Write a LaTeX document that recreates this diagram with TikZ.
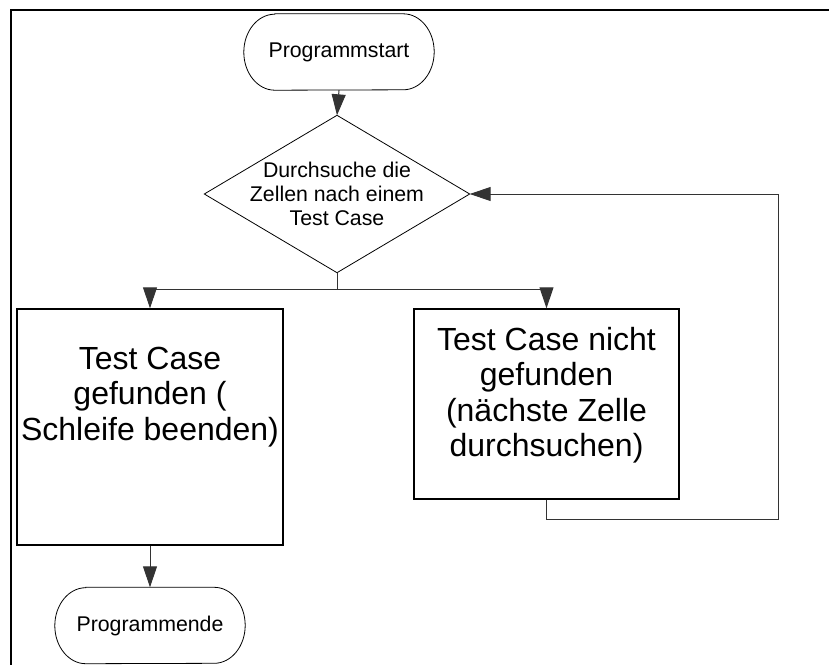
\documentclass[tikz,border=0pt]{standalone}
\usepackage{fontspec}
\setmainfont{Liberation Sans}
\usetikzlibrary{arrows.meta}

% terminator outline drawn round an (invisible) node: flat top and bottom,
% elliptic ends
\newcommand\termoutline[1]{%
  \draw[termline] ([xshift=31pt]#1.north west) -- ([xshift=-31pt]#1.north east)
    arc[start angle=90, end angle=-90, x radius=31pt, y radius=38pt]
    -- ([xshift=31pt]#1.south west)
    arc[start angle=270, end angle=90, x radius=31pt, y radius=38pt] -- cycle;}

\tikzset{
  termline/.style={draw=black, line width=0.8pt},
  terminal/.style={minimum width=190pt, minimum height=76pt, inner sep=0pt,
    align=center, font=\fontsize{21.3}{24}\selectfont},
  decision/.style={minimum width=265pt, minimum height=157pt, inner sep=0pt,
    align=center, font=\fontsize{21.3}{24}\selectfont},
  procbox/.style={draw=black, line width=1.4pt, inner sep=0pt},
  proctext/.style={align=center, inner sep=0pt,
    font=\fontsize{32}{35.5}\selectfont},
  flow/.style={draw=black!80, line width=1pt},
  flowarrow/.style={flow, -{Triangle[length=21pt, width=14pt]}},
}

\begin{document}
\begin{tikzpicture}[x=1pt, y=-1pt]
  \useasboundingbox (0,0) rectangle (829,664);
  \clip (0,0) rectangle (829,664);

  % outer frame, running off the right and bottom edges
  \draw[line width=2.5pt] (11,10) rectangle (880,720);

  % start
  \node[terminal] (start) at (339,52) {Programmstart};
  \termoutline{start}

  % decision
  \node[decision] (search) at (337,194)
    {Durchsuche die\\Zellen nach einem\\Test Case};
  \draw[termline] (search.north) -- (search.east) -- (search.south)
    -- (search.west) -- cycle;

  % the two outcomes
  \node[procbox, minimum width=266pt, minimum height=236pt] (found) at (150,427) {};
  \node[proctext] (foundtext) at (150,397)
    {Test Case\\gefunden (\\Schleife beenden)};

  \node[procbox, minimum width=265pt, minimum height=190pt] (notfound) at (546.5,404) {};
  \node[proctext] (notfoundtext) at (546.5,395)
    {Test Case nicht\\gefunden\\(nächste Zelle\\durchsuchen)};

  % end
  \node[terminal] (finish) at (150,625.5) {Programmende};
  \termoutline{finish}

  % connectors
  \draw[flowarrow] (start.south) -- (search.north);
  \draw[flow] (search.south) -- ++(0,17) coordinate (split);
  \draw[flowarrow] (split) -| (found.north);
  \draw[flowarrow] (split) -| (notfound.north);
  \coordinate (loopcorner) at (778,519);
  \draw[flowarrow] (notfound.south) |- (loopcorner) |- (search.east);
  \draw[flowarrow] (found.south) -- (finish.north);
\end{tikzpicture}
\end{document}
